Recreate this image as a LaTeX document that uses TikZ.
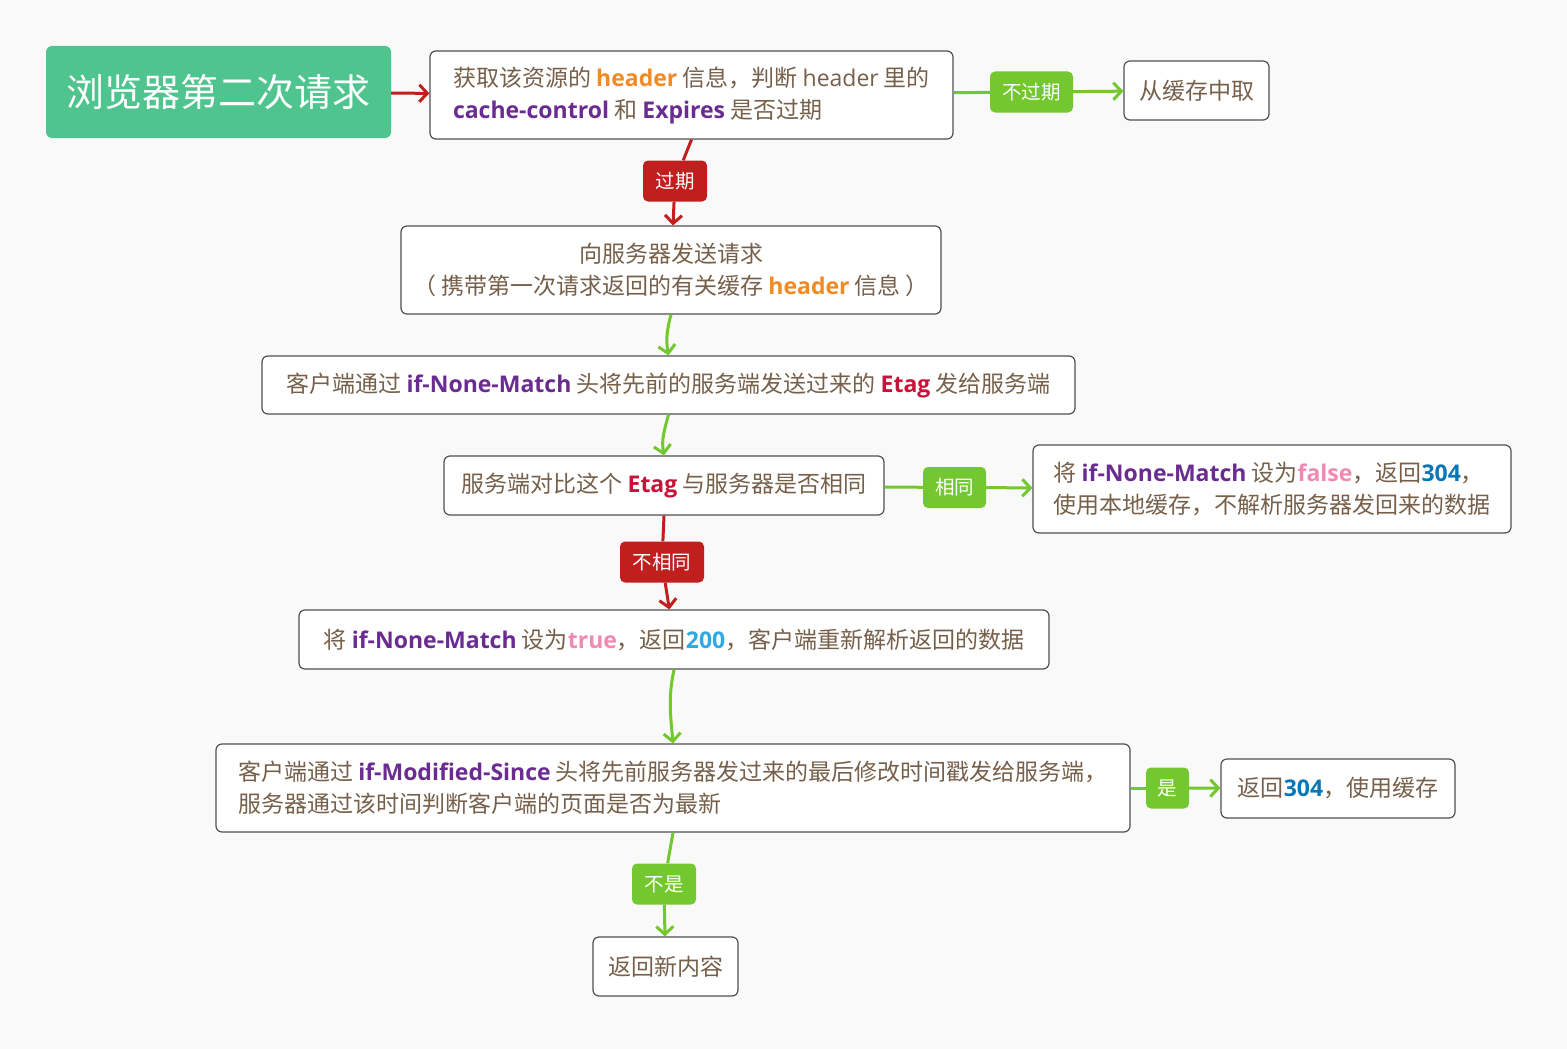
\documentclass[tikz,border=0pt]{standalone}
\usepackage{fontspec}
\setmainfont{Noto Sans CJK SC}
\newfontfamily\latinfont{Open Sans}
\usetikzlibrary{arrows.meta}
\definecolor{PageGray}{HTML}{F9F9F9}
\definecolor{TitleGreen}{HTML}{50C48E}
\definecolor{TextBrown}{HTML}{76604A}
\definecolor{BoxLine}{HTML}{505050}
\definecolor{TagGreen}{HTML}{72C82E}
\definecolor{TagRed}{HTML}{C01F1E}
\definecolor{KeyPurple}{HTML}{6A2C91}
\definecolor{KeyOrange}{HTML}{F28A24}
\definecolor{KeyCrimson}{HTML}{C81237}
\definecolor{KeyPink}{HTML}{F08AB2}
\definecolor{KeySky}{HTML}{2EA9E1}
\definecolor{KeyBlue}{HTML}{0A76B5}
\newcommand{\kw}[2]{{\color{#1}\latinfont\bfseries #2}}

\begin{document}
\begin{tikzpicture}[
    x=1pt,y=-1pt,
    box/.style={rounded corners=6pt, draw=BoxLine, line width=1.2pt, fill=white,
      text=TextBrown, font=\fontsize{23}{32}\selectfont, inner sep=0pt},
    tag/.style={rounded corners=5pt, text=white, font=\fontsize{19.5}{22}\selectfont,
      inner sep=0pt, minimum height=41pt},
    glink/.style={draw=TagGreen, line width=3pt},
    rlink/.style={draw=TagRed, line width=3pt},
    pointer/.style={-{Straight Barb[length=8pt,width=17pt]}}
  ]
  \fill[PageGray] (0,0) rectangle (1567,1049);
  \useasboundingbox (0,0) rectangle (1567,1049);

  % boxes
  \node[rounded corners=6pt, fill=TitleGreen, text=white, inner sep=0pt,
    minimum width=345pt, minimum height=92pt,
    font=\fontsize{38}{44}\selectfont] (start) at (218.5,92) {\raisebox{-4pt}{浏览器第二次请求}};
  \node[box, minimum width=523pt, minimum height=88pt, align=left] (check) at (691.5,95) {
    获取该资源的 \kw{KeyOrange}{header} 信息，判断 {\latinfont header} 里的\\
    \kw{KeyPurple}{cache-control} 和 \kw{KeyPurple}{Expires} 是否过期};
  \node[box, minimum width=145pt, minimum height=59pt] (cache) at (1196.5,90.5) {从缓存中取};
  \node[box, minimum width=540pt, minimum height=88pt, align=center] (send) at (671,270) {
    向服务器发送请求\\
    （ 携带第一次请求返回的有关缓存 \kw{KeyOrange}{header} 信息 ）};
  \node[box, minimum width=813pt, minimum height=58pt] (etag) at (668.5,385) {
    客户端通过 \kw{KeyPurple}{if-None-Match} 头将先前的服务端发送过来的 \kw{KeyCrimson}{Etag} 发给服务端};
  \node[box, minimum width=440pt, minimum height=59pt] (compare) at (664,485.5) {
    服务端对比这个 \kw{KeyCrimson}{Etag} 与服务器是否相同};
  \node[box, minimum width=478pt, minimum height=88pt, align=left] (same) at (1272,489) {
    将 \kw{KeyPurple}{if-None-Match} 设为\kw{KeyPink}{false}，返回\kw{KeyBlue}{304}，\\
    使用本地缓存，不解析服务器发回来的数据};
  \node[box, minimum width=750pt, minimum height=59pt] (differ) at (674,639.5) {
    将 \kw{KeyPurple}{if-None-Match} 设为\kw{KeyPink}{true}，返回\kw{KeySky}{200}，客户端重新解析返回的数据};
  \node[box, minimum width=914pt, minimum height=88pt, align=left] (modified) at (673,788) {
    客户端通过 \kw{KeyPurple}{if-Modified-Since} 头将先前服务器发过来的最后修改时间戳发给服务端，\\
    服务器通过该时间判断客户端的页面是否为最新};
  \node[box, minimum width=234pt, minimum height=59pt] (usecache) at (1338,788.5) {
    返回\kw{KeyBlue}{304}，使用缓存};
  \node[box, minimum width=145pt, minimum height=59pt] (fresh) at (665.5,966.5) {返回新内容};

  % labels
  \node[tag, fill=TagGreen, minimum width=83pt] (notexpired) at (1031.5,92) {不过期};
  \node[tag, fill=TagRed, minimum width=64pt] (expired) at (675,181) {过期};
  \node[tag, fill=TagGreen, minimum width=63pt] (equal) at (954.5,487.5) {相同};
  \node[tag, fill=TagRed, minimum width=84pt] (notequal) at (662,562) {不相同};
  \node[tag, fill=TagGreen, minimum width=43pt] (yes) at (1167.5,788) {是};
  \node[tag, fill=TagGreen, minimum width=64pt] (no) at (664,884) {不是};

  % connectors
  \draw[rlink, pointer] (start) -- (check);
  \draw[glink] (check) -- (notexpired);
  \draw[glink, pointer] (notexpired) -- (cache);
  \draw[rlink] (check.south) -- (expired);
  \draw[rlink, pointer] (expired) -- (send);
  \draw[glink, pointer] (send.south) to[out=-105,in=100] (etag.north);
  \draw[glink, pointer] (etag.south) to[out=-105,in=100] (compare.north);
  \draw[glink] (compare) -- (equal);
  \draw[glink, pointer] (equal) -- (same);
  \draw[rlink] (compare.south) -- (notequal);
  \draw[rlink, pointer] (notequal) -- (differ);
  \draw[glink, pointer] (differ.south) to[out=-102,in=95] (modified.north);
  \draw[glink] (modified) -- (yes);
  \draw[glink, pointer] (yes) -- (usecache);
  \draw[glink] (modified.south) -- (no);
  \draw[glink, pointer] (no) -- (fresh);
\end{tikzpicture}
\end{document}
